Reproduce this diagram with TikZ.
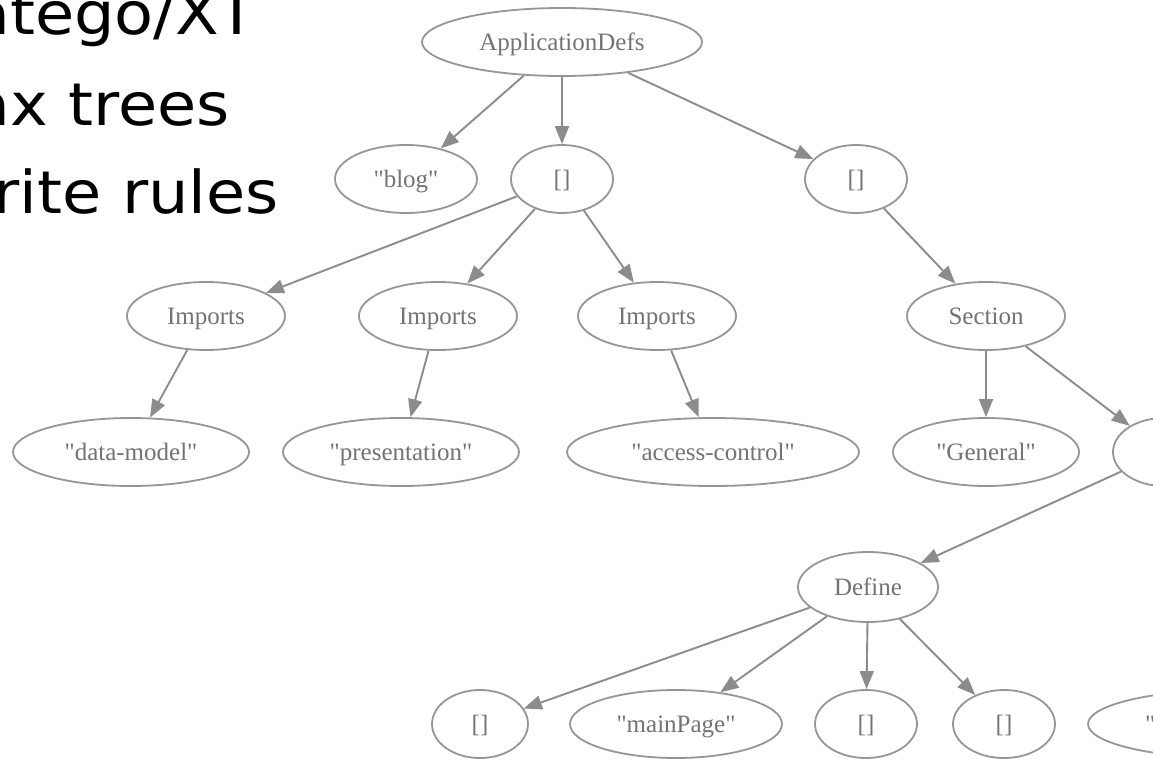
\documentclass[tikz,border=0pt]{standalone}
\usepackage{fontspec}
\setmainfont{Liberation Serif}[Ligatures=TeXOff]
\newfontfamily\slidefont{DejaVu Sans}[FakeStretch=1.08]
\usetikzlibrary{shapes.geometric,arrows.meta}

\definecolor{edgegray}{RGB}{140,140,140}
\definecolor{linegray}{RGB}{150,150,150}
\definecolor{textgray}{RGB}{115,115,115}

\tikzset{
  tnode/.style={ellipse, draw=linegray, line width=1.8pt, inner sep=0pt,
    text=textgray, font=\fontsize{25}{30}\selectfont,
    text height=17pt, text depth=0pt},
  small/.style={tnode, minimum width=102pt, minimum height=68pt},
  edge/.style={draw=edgegray, line width=1.9pt,
    -{Triangle[length=18pt,width=14pt]}},
  slide/.style={anchor=base east, inner sep=0pt, text=black,
    font=\slidefont\fontsize{59}{70}\selectfont}
}

\begin{document}
\begin{tikzpicture}[x=1pt,y=-1pt]
\useasboundingbox (0,0) rectangle (1153,760);
\clip (0,0) rectangle (1153,760);
\fill[white] (0,0) rectangle (1153,760);

% bullet text on the left
\node[slide] (t1) at (257,35) {atego/XT};
\node[slide] (t2) at (230,125) {ax trees};
\node[slide] (t3) at (279,213) {rite rules};

% tree nodes
\node[tnode, minimum width=280pt, minimum height=68pt] (ad) at (562,42) {ApplicationDefs};
\node[tnode, minimum width=142pt, minimum height=68pt] (blog) at (406,179) {"blog"};
\node[small] (l1) at (562,179) {[]};
\node[small] (l2) at (856,179) {[]};

\node[tnode, minimum width=158pt, minimum height=68pt] (im1) at (206,316) {Imports};
\node[tnode, minimum width=158pt, minimum height=68pt] (im2) at (438,316) {Imports};
\node[tnode, minimum width=158pt, minimum height=68pt] (im3) at (657,316) {Imports};
\node[tnode, minimum width=158pt, minimum height=68pt] (sec) at (986,316) {Section};

\node[tnode, minimum width=236pt, minimum height=68pt] (dm) at (131,452) {"data-model"};
\node[tnode, minimum width=236pt, minimum height=68pt] (pr) at (401,452) {"presentation"};
\node[tnode, minimum width=292pt, minimum height=68pt] (ac) at (713,452) {"access-control"};
\node[tnode, minimum width=186pt, minimum height=68pt] (gen) at (986,452) {"General"};
\node[small] (l3) at (1164,452) {};

\node[tnode, minimum width=140pt, minimum height=70pt] (def) at (868,587) {Define};

\node[tnode, minimum width=96pt, minimum height=68pt] (l4) at (480,724) {[]};
\node[tnode, minimum width=212pt, minimum height=68pt] (mp) at (676,724) {"mainPage"};
\node[small] (l5) at (866,724) {[]};
\node[small] (l6) at (1004,724) {[]};
\node[tnode, minimum width=284pt, minimum height=68pt] (s1) at (1230,724) {};
\node[anchor=base west, inner sep=0pt, text=textgray, font=\fontsize{25}{30}\selectfont] (q1) at (1145,732) {"};

% connectors
\draw[edge] (ad) -- (blog);
\draw[edge] (ad) -- (l1);
\draw[edge] (ad) -- (l2);
\draw[edge] (l1) -- (im1);
\draw[edge] (l1) -- (im2);
\draw[edge] (l1) -- (im3);
\draw[edge] (l2) -- (sec);
\draw[edge] (im1) -- (dm);
\draw[edge] (im2) -- (pr);
\draw[edge] (im3) -- (ac);
\draw[edge] (sec) -- (gen);
\draw[edge] (sec) -- (l3);
\draw[edge] (l3) -- (def);
\draw[edge] (def) -- (l4);
\draw[edge] (def) -- (mp);
\draw[edge] (def) -- (l5);
\draw[edge] (def) -- (l6);
\end{tikzpicture}
\end{document}
